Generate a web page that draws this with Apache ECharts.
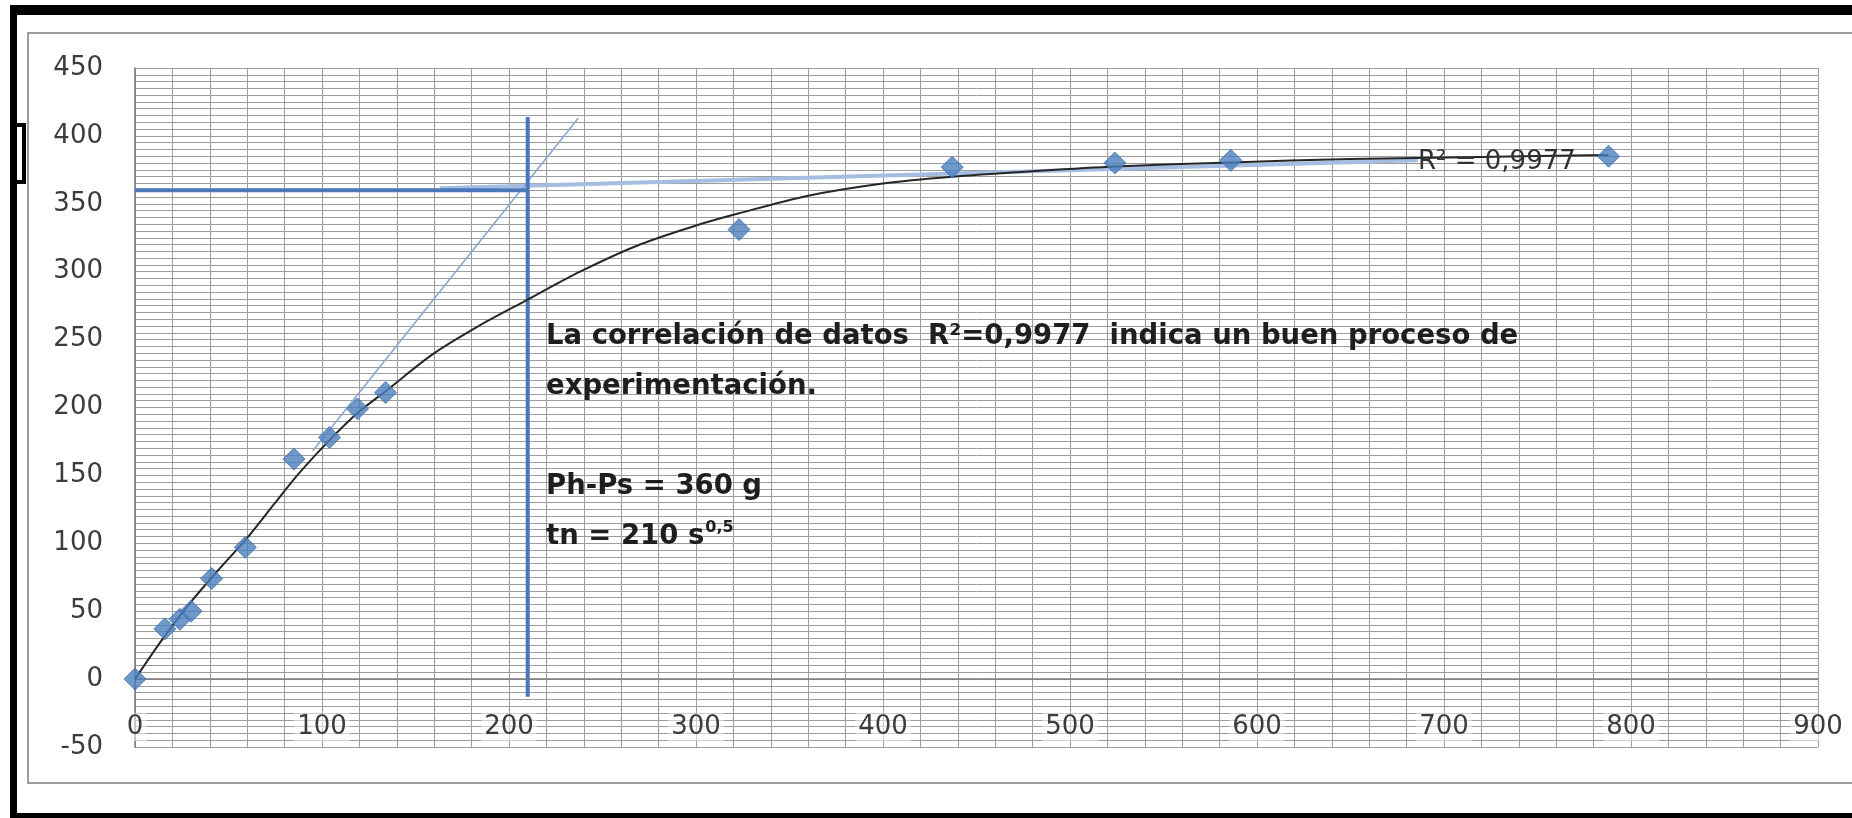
<!DOCTYPE html>
<html>
<head>
<meta charset="utf-8">
<script src="https://cdn.jsdelivr.net/npm/echarts@6/dist/echarts.min.js"></script>
<style>
  html, body { margin: 0; padding: 0; background: #fff; }
  #chart { width: 1852px; height: 818px; }
</style>
</head>
<body>
<div id="chart"></div>
<script>
// Drying test: weight loss (g) against square root of time (s^0.5)
const sqrtTime = [0, 16, 24, 30, 41, 59, 85, 104, 119, 134, 323, 437, 524, 586, 788];
const weightLoss = [0, 37, 44, 50, 74, 97, 162, 178, 199, 211, 331, 377, 380, 382, 385];

// Fitted trend curve (as plotted)
const trendX = [0, 15, 30, 45, 60, 75, 88, 104, 119, 134, 160, 185, 208, 238, 270, 300, 323, 360, 400, 437, 480, 524, 586, 650, 720, 788];
const trendY = [0, 30, 57, 81, 104, 130, 152, 176, 196, 212, 240, 261, 278, 300, 320, 334, 343, 356, 365, 370, 374, 377.5, 380.5, 383, 384.5, 386];

// Graphical construction: plateau level and tangent at the start
const PH_PS = 360;          // g
const TN = 210;             // s^0.5
const R2 = '0,9977';
const tangentX = [95, 237];
const tangentY = [168, 413];
const plateauX = [163, 686];
const plateauY = [361.5, 382];
const verticalY = [-13, 414];

// Axis ticks
const xTicks = { min: 0, max: 900, step: 100, minorSplit: 5 };
const yTicks = { min: -50, max: 450, step: 50, minorSplit: 10 };

const pairs = (xs, ys) => xs.map((x, i) => [x, ys[i]]);

const gridColor = '#9c9c9c';
const axisColor = '#7a7a7a';
const labelFont = 'DejaVu Sans';
const noteFont = 'bold 27.5px "DejaVu Sans"';
const noteLeft = 546, noteTop = 312, noteLine = 50;

// width of the last annotation line, to place its exponent
const measure = document.createElement('canvas').getContext('2d');
measure.font = noteFont;
const tnText = 'tn = ' + TN + ' s';
const tnWidth = measure.measureText(tnText).width;

const chart = echarts.init(document.getElementById('chart'), null, { renderer: 'canvas' });

const option = {
  animation: false,
  backgroundColor: '#ffffff',
  grid: { left: 135, top: 68, right: 34, bottom: 71 },
  xAxis: {
    type: 'value',
    min: xTicks.min, max: xTicks.max, interval: xTicks.step,
    axisLine: { show: false, onZero: false },
    axisTick: { show: false },
    axisLabel: {
      margin: -34, fontFamily: labelFont, fontSize: 26, color: '#3c3c3c',
      backgroundColor: 'rgba(255,255,255,0.5)', padding: [1, 3]
    },
    splitLine: { show: true, lineStyle: { color: gridColor, width: 1 } },
    minorTick: { show: false, splitNumber: xTicks.minorSplit },
    minorSplitLine: { show: true, lineStyle: { color: gridColor, width: 1 } }
  },
  yAxis: {
    type: 'value',
    min: yTicks.min, max: yTicks.max, interval: yTicks.step,
    axisLine: { show: true, onZero: false, lineStyle: { color: axisColor, width: 1.5 } },
    axisTick: { show: false },
    axisLabel: { margin: 32, fontFamily: labelFont, fontSize: 26, color: '#3c3c3c', padding: [6, 0, 0, 0] },
    splitLine: { show: true, lineStyle: { color: gridColor, width: 1 } },
    minorTick: { show: false, splitNumber: yTicks.minorSplit },
    minorSplitLine: { show: true, lineStyle: { color: gridColor, width: 1 } }
  },
  series: [
    {
      name: 'plateau', type: 'line', data: pairs(plateauX, plateauY),
      symbol: 'none', z: 3,
      lineStyle: { color: '#a3bde3', width: 4 },
      // horizontal axis line at zero
      markLine: {
        silent: true, symbol: 'none', label: { show: false },
        lineStyle: { color: axisColor, type: 'solid', width: 1.5 },
        data: [{ yAxis: 0 }]
      }
    },
    {
      name: 'tangente', type: 'line', data: pairs(tangentX, tangentY),
      symbol: 'none', z: 3,
      lineStyle: { color: '#8aa6d4', width: 1.6 }
    },
    {
      name: 'Ph-Ps', type: 'line', data: [[0, PH_PS], [TN, PH_PS]],
      symbol: 'none', z: 4,
      lineStyle: { color: '#4a76ba', width: 4 }
    },
    {
      name: 'tn', type: 'line', data: [[TN, verticalY[0]], [TN, verticalY[1]]],
      symbol: 'none', z: 4,
      lineStyle: { color: '#4a76ba', width: 4 }
    },
    {
      name: 'tendencia', type: 'line', data: pairs(trendX, trendY),
      symbol: 'none', smooth: 0.3, z: 5,
      lineStyle: { color: '#262626', width: 2 }
    },
    {
      name: 'datos', type: 'scatter', data: pairs(sqrtTime, weightLoss),
      symbol: 'diamond', symbolSize: 22, z: 6,
      itemStyle: { color: '#4b7fbd', borderColor: '#3f70b2', borderWidth: 1 }
    }
  ],
  graphic: [
    // outer frame
    { type: 'rect', shape: { x: 10, y: 5, width: 1842, height: 10 }, style: { fill: '#000' }, z: 100 },
    { type: 'rect', shape: { x: 10, y: 5, width: 7, height: 813 }, style: { fill: '#000' }, z: 100 },
    { type: 'rect', shape: { x: 10, y: 813, width: 1842, height: 5 }, style: { fill: '#000' }, z: 100 },
    // chart-area border
    { type: 'rect', shape: { x: 28, y: 33, width: 1840, height: 750 },
      style: { fill: 'none', stroke: '#9c9c9c', lineWidth: 2 }, z: 90 },
    // small bracket at the left edge
    { type: 'polyline', shape: { points: [[17, 125], [24, 125], [24, 182], [17, 182]] },
      style: { fill: 'none', stroke: '#000', lineWidth: 4 }, z: 100 },
    // R² label of the trend curve
    { type: 'text', left: 1418, top: 149, z: 50,
      style: { text: 'R² = ' + R2, font: '26px "DejaVu Sans"', fill: '#333' } },
    // annotation
    { type: 'text', left: noteLeft, top: noteTop, z: 50,
      style: {
        text: 'La correlación de datos  R²=' + R2 + '  indica un buen proceso de\n' +
              'experimentación.\n\n' +
              'Ph-Ps = ' + PH_PS + ' g\n' +
              tnText,
        font: noteFont, fill: '#1e1e1e', lineHeight: noteLine
      } },
    // exponent of the time unit
    { type: 'text', left: noteLeft + tnWidth + 1, top: noteTop + noteLine * 4 + noteLine / 2 - 17, z: 50,
      style: { text: '0,5', font: 'bold 16px "DejaVu Sans"', fill: '#1e1e1e' } }
  ]
};

chart.setOption(option);
</script>
</body>
</html>
